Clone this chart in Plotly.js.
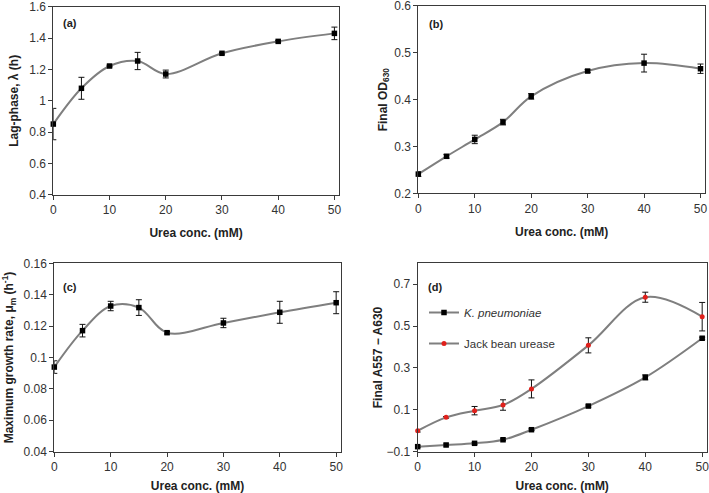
<!DOCTYPE html>
<html><head><meta charset="utf-8">
<script src="https://cdn.plot.ly/plotly-3.0.1.min.js"></script>
<style>html,body{margin:0;padding:0;background:#fff}#chart{width:709px;height:493px}</style>
</head><body><div id="chart"></div>
<script>
const urea = [0, 5, 10, 15, 20, 30, 40, 50];

const lagPhase = [0.852, 1.080, 1.222, 1.254, 1.171, 1.303, 1.379, 1.430];
const lagPhaseErr = [0.10, 0.07, 0.005, 0.055, 0.025, 0.005, 0.006, 0.04];

const finalOD = [0.241, 0.279, 0.315, 0.352, 0.407, 0.461, 0.478, 0.466];
const finalODErr = [0.005, 0.004, 0.009, 0.006, 0.006, 0.003, 0.019, 0.010];

const growthRate = [0.0939, 0.1171, 0.1328, 0.1318, 0.1158, 0.1220, 0.1288, 0.1349];
const growthRateErr = [0.004, 0.004, 0.003, 0.005, 0.0008, 0.003, 0.007, 0.007];

const kpneu = [-0.076, -0.068, -0.060, -0.043, 0.005, 0.118, 0.255, 0.442];
const kpneuErr = [0.004, 0.004, 0.004, 0.004, 0.004, 0.005, 0.012, 0.005];

const jackBean = [0.000, 0.064, 0.096, 0.123, 0.200, 0.408, 0.638, 0.545];
const jackBeanErr = [0.006, 0.004, 0.020, 0.025, 0.043, 0.036, 0.024, 0.068];

const xTicks = [0, 10, 20, 30, 40, 50];
const yTicksA = [0.4, 0.6, 0.8, 1, 1.2, 1.4, 1.6];
const yTicksB = [0.2, 0.3, 0.4, 0.5, 0.6];
const yTicksC = [0.04, 0.06, 0.08, 0.1, 0.12, 0.14, 0.16];
const yTicksD = [-0.1, 0.1, 0.3, 0.5, 0.7];
const yLabelsA = ['0.4', '0.6', '0.8', '1', '1.2', '1.4', '1.6'];
const yLabelsB = ['0.2', '0.3', '0.4', '0.5', '0.6'];
const yLabelsC = ['0.04', '0.06', '0.08', '0.1', '0.12', '0.14', '0.16'];
const yLabelsD = ['\u22120.1', '0.1', '0.3', '0.5', '0.7'];

const lineColor = '#7f7f7f';
const frameColor = '#3a3a3a';
const FAM = 'Liberation Sans, Arial, sans-serif';
const tickFont = {family: FAM, size: 12, color: '#333'};
const titleFont = {family: FAM, size: 12, color: '#222', weight: 'bold'};

function series(y, err, xa, ya, opts) {
  return Object.assign({
    x: urea, y: y, xaxis: xa, yaxis: ya, type: 'scatter', mode: 'lines+markers',
    line: {color: lineColor, width: 2, shape: 'spline', smoothing: 1},
    marker: {symbol: 'square', size: 5.5, color: '#000'},
    error_y: {type: 'data', array: err, visible: true, color: '#111', thickness: 1, width: 3},
    showlegend: false, cliponaxis: false
  }, opts || {});
}

const traces = [
  series(lagPhase, lagPhaseErr, 'x', 'y'),
  series(finalOD, finalODErr, 'x2', 'y2'),
  series(growthRate, growthRateErr, 'x3', 'y3'),
  series(kpneu, kpneuErr, 'x4', 'y4', {name: '<i>K. pneumoniae</i>', showlegend: true, legendgroup: 'k'}),
  series(jackBean, jackBeanErr, 'x4', 'y4', {name: 'Jack bean urease', showlegend: true, legendgroup: 'j',
    marker: {symbol: 'circle', size: 5, color: '#e0201b'}})
];

function xax(domain, anchor) {
  return {domain: domain, anchor: anchor, range: [0, 50.8], tickvals: xTicks, ticktext: xTicks.map(String),
    showgrid: false, zeroline: false, showline: true, mirror: true, linecolor: frameColor, linewidth: 1,
    ticks: 'outside', ticklen: 4, tickcolor: frameColor, tickfont: tickFont, ticklabeloverflow: 'allow',
    title: {text: 'Urea conc. (mM)', font: titleFont, standoff: 12}};
}
function yax(domain, anchor, range, vals, labels, title, standoff) {
  return {domain: domain, anchor: anchor, range: range, tickvals: vals, ticktext: labels,
    showgrid: false, zeroline: false, showline: true, mirror: true, linecolor: frameColor, linewidth: 1,
    ticks: 'outside', ticklen: 4, tickcolor: frameColor, tickfont: tickFont, ticklabeloverflow: 'allow',
    title: {text: title, font: titleFont, standoff: standoff}};
}

const topY = [0.6045, 0.9864];
const botY = [0.0838, 0.4659];

const layout = {
  width: 709, height: 493, margin: {l: 0, r: 0, t: 0, b: 0},
  paper_bgcolor: '#fff', plot_bgcolor: '#fff',
  font: {family: FAM},
  xaxis: xax([0.0752, 0.478], 'y'),
  yaxis: yax(topY, 'x', [0.4, 1.6], yTicksA, yLabelsA, 'Lag-phase, λ (h)', 8),
  xaxis2: xax([0.590, 0.9944], 'y2'),
  yaxis2: yax([0.6079, 0.9879], 'x2', [0.2, 0.6], yTicksB, yLabelsB, 'Final OD<sub>630</sub>', 4),
  xaxis3: xax([0.0766, 0.4805], 'y3'),
  yaxis3: yax(botY, 'x3', [0.04, 0.16], yTicksC, yLabelsC, 'Maximum growth rate, μ<sub>m</sub> (h<sup>-1</sup>)', 8),
  xaxis4: xax([0.5891, 0.9968], 'y4'),
  yaxis4: yax(botY, 'x4', [-0.1, 0.8], yTicksD, yLabelsD, 'Final A557 − A630', 1),
  legend: {x: 424/709, y: 1 - 298/493, xref: 'paper', yref: 'paper', xanchor: 'left', yanchor: 'top',
    bgcolor: 'rgba(0,0,0,0)', font: {family: FAM, size: 11.5, color: '#333'},
    tracegroupgap: 12, itemwidth: 30},
  annotations: [
    {text: '<b>(a)</b>', xref: 'paper', yref: 'paper', x: 61/709, y: 1 - 23/493, xanchor: 'left', yanchor: 'middle', showarrow: false, font: {size: 11, color: '#222'}},
    {text: '<b>(b)</b>', xref: 'paper', yref: 'paper', x: 427/709, y: 1 - 24/493, xanchor: 'left', yanchor: 'middle', showarrow: false, font: {size: 11, color: '#222'}},
    {text: '<b>(c)</b>', xref: 'paper', yref: 'paper', x: 61/709, y: 1 - 287/493, xanchor: 'left', yanchor: 'middle', showarrow: false, font: {size: 11, color: '#222'}},
    {text: '<b>(d)</b>', xref: 'paper', yref: 'paper', x: 426/709, y: 1 - 287/493, xanchor: 'left', yanchor: 'middle', showarrow: false, font: {size: 11, color: '#222'}}
  ]
};

Plotly.newPlot('chart', traces, layout, {displayModeBar: false, staticPlot: true});
</script></body></html>
